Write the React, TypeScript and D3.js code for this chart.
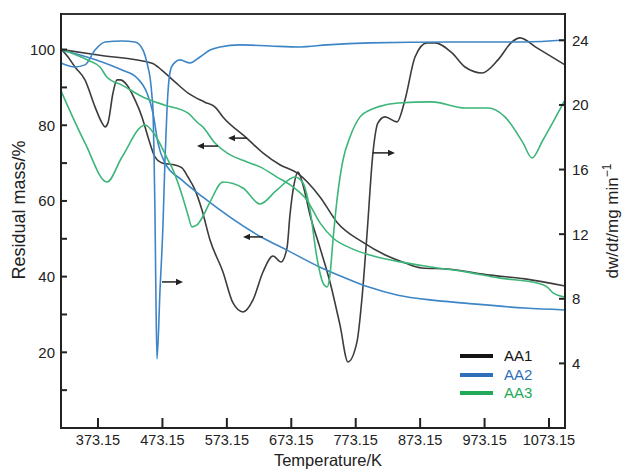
import React from 'react';
import * as d3 from 'd3';

// ---- axis ticks ----
const xTicks = [373.15, 473.15, 573.15, 673.15, 773.15, 873.15, 973.15, 1073.15];
const leftTicks = [10, 20, 30, 40, 50, 60, 70, 80, 90, 100];
const leftLabels = [20, 40, 60, 80, 100];
const rightTicks = [4, 8, 12, 16, 20, 24];

// ---- AA1 ----
const aa1TgT = [315.7, 376, 457, 472, 493, 513, 539, 555, 567, 604, 629, 656, 682, 718, 744, 784, 819, 850, 876, 916, 982, 1036, 1098];
const aa1TgM = [100, 98.5, 96.4, 94.6, 91.4, 88.5, 86.1, 84.8, 82.2, 76.6, 72.7, 69.5, 67.4, 61.0, 54.4, 49.1, 45.7, 43.6, 42.3, 42.0, 40.4, 39.4, 37.5];
const aa1DtgT = [315.7, 326.6, 337.4, 352.9, 368.5, 379.3, 384, 388.6, 396.4, 402.6, 407.3, 418.1, 430.6, 441.4, 450.7, 461.6, 472.5, 492.6, 503.5, 512.8, 523.7, 534.5, 547, 567.1, 582.7, 598.2, 613.7, 629.2, 644.8, 657.2, 666.5, 671.1, 677.3, 683.5, 691.3, 702.2, 717.7, 733.2, 748.7, 761.1, 775.1, 782.9, 790.6, 799.9, 807.7, 818.6, 837.2, 849.6, 865.2, 883.8, 896.2, 922.6, 942.8, 969.1, 994, 1015.7, 1028.1, 1054.5, 1098];
const aa1DtgV = [23.47, 22.97, 22.35, 21.55, 19.88, 18.89, 18.64, 18.89, 20.74, 21.55, 21.55, 21.24, 20.31, 19.26, 18.02, 16.78, 16.41, 16.28, 16.1, 15.54, 14.74, 13.5, 11.64, 9.66, 7.74, 7.18, 7.93, 9.66, 10.65, 10.28, 11.15, 13.19, 15.05, 15.85, 15.05, 13.19, 11.15, 9.04, 6.38, 4.09, 5.33, 8.05, 11.95, 17.03, 18.89, 19.26, 18.95, 20.31, 22.97, 23.84, 23.84, 23.22, 22.35, 21.98, 22.79, 23.9, 24.15, 23.53, 22.48];

// ---- AA2 ----
const aa2TgT = [315.7, 371.6, 410.4, 433.7, 449.2, 458.5, 466.2, 477.1, 503.5, 536.1, 629.2, 666.5, 717.7, 753.4, 792.2, 838.8, 891.6, 942.8, 1035.9, 1098];
const aa2TgM = [99.9, 97.2, 94.6, 92.5, 88.5, 83.2, 75.3, 70.0, 65.5, 61.0, 50.2, 47.0, 42.5, 39.9, 37.3, 35.1, 33.8, 33.0, 31.7, 31.2];
const aa2DtgT = [315.7, 337.4, 352.9, 368.5, 384.0, 410.4, 430.6, 443.0, 450.7, 453.8, 457.0, 458.5, 460.0, 461.6, 463.1, 464.7, 469.4, 474.0, 477.1, 480.2, 483.3, 488.0, 500.4, 515.9, 531.4, 547.0, 562.5, 593.5, 640.1, 686.6, 728.6, 795.3, 919.5, 1035.9, 1098];
const aa2DtgV = [22.6, 22.35, 22.48, 23.4, 23.9, 23.96, 23.9, 23.4, 22.35, 21.73, 20.5, 19.69, 17.21, 13.19, 7.93, 4.27, 8.55, 12.57, 16.59, 19.69, 21.55, 22.41, 22.79, 22.6, 22.97, 23.4, 23.59, 23.72, 23.65, 23.59, 23.72, 23.84, 23.9, 23.9, 24.02];

// ---- AA3 ----
const aa3TgT = [315.7, 357.6, 376.2, 387.1, 410.4, 446.1, 477.1, 512.8, 528.3, 536.1, 554.7, 573.3, 604.4, 624.6, 650.9, 675.8, 697.5, 717.7, 737.9, 764.3, 795.3, 841.9, 893.1, 945.8, 997.1, 1054.5, 1070.1, 1079.4, 1098];
const aa3TgM = [100.1, 97.2, 95.4, 92.7, 90.6, 87.2, 85.3, 83.2, 80.6, 79.5, 75.3, 72.7, 70.3, 69.0, 66.3, 63.7, 60.2, 54.2, 50.2, 47.6, 45.7, 43.9, 42.5, 41.2, 39.6, 38.3, 37.3, 35.7, 34.6];
const aa3DtgT = [315.7, 352.9, 387.1, 410.4, 446.1, 461.6, 481.8, 489.5, 503.5, 512.8, 519.0, 526.8, 534.5, 547.0, 567.1, 598.2, 624.6, 650.9, 678.9, 691.3, 702.2, 713.0, 722.3, 728.6, 733.2, 737.9, 744.1, 753.4, 764.3, 779.8, 795.3, 807.7, 838.8, 891.6, 942.8, 978.5, 1004.8, 1032.8, 1046.8, 1063.8, 1098];
const aa3DtgV = [20.87, 17.65, 15.23, 16.78, 18.76, 18.14, 16.59, 15.98, 14.43, 13.19, 12.45, 12.57, 13.0, 13.99, 15.23, 14.86, 13.87, 14.74, 15.54, 15.17, 13.5, 10.53, 8.98, 8.73, 9.47, 11.64, 14.12, 16.59, 18.02, 19.26, 19.69, 19.88, 20.12, 20.19, 19.81, 19.81, 19.26, 17.65, 16.72, 17.83, 20.31];

// ---- annotation arrows (temperature from -> to, at residual mass level) ----
const arrowFrom = [604.4, 559.4, 629.2, 472.5, 799.9];
const arrowTo = [574.9, 526.8, 598.2, 505.1, 834.1];
const arrowAt = [76.6, 74.5, 50.5, 38.6, 72.7];

const legendNames = ['AA1', 'AA2', 'AA3'];

const BLACK = '#3c3c3c';
const BLUE = '#3d85c6';
const GREEN = '#3db67a';
const legendLine = ['#141414', '#2f6fba', '#22aa58'];
const legendText = ['#141414', '#2f6fba', '#22aa58'];

const FONT = 'Liberation Sans, Arial, Helvetica, sans-serif';

export default function App() {
  const W = 622, H = 471;
  const L = 61, R = 565, T = 14, B = 428;
  const x = d3.scaleLinear().domain([315.7, 1098]).range([L, R]);
  const yL = d3.scaleLinear().domain([0, 109.4]).range([B, T]);
  const yR = d3.scaleLinear().domain([0, 25.63]).range([B, T]);

  const mk = (ts: number[], vs: number[], y: d3.ScaleLinear<number, number>) =>
    d3.line<number>()
      .x((_, i) => x(ts[i]))
      .y((v) => y(v))
      .curve(d3.curveMonotoneX)(vs) || '';

  const series = [
    { d: mk(aa1TgT, aa1TgM, yL), c: BLACK },
    { d: mk(aa1DtgT, aa1DtgV, yR), c: BLACK },
    { d: mk(aa2TgT, aa2TgM, yL), c: BLUE },
    { d: mk(aa2DtgT, aa2DtgV, yR), c: BLUE },
    { d: mk(aa3TgT, aa3TgM, yL), c: GREEN },
    { d: mk(aa3DtgT, aa3DtgV, yR), c: GREEN },
  ];

  const legendY = [356, 375, 393];

  return (
    <svg width={W} height={H} style={{ position: 'absolute', left: 0, top: 0, background: '#fff' }} fontFamily={FONT}>
      <rect x={0} y={0} width={W} height={H} fill="#fff" />
      {series.map((s, i) => (
        <path key={i} d={s.d} fill="none" stroke={s.c} strokeWidth={1.6} strokeLinejoin="round" />
      ))}

      {/* arrows */}
      {arrowFrom.map((a, i) => {
        const x0 = x(a), x1 = x(arrowTo[i]), yy = yL(arrowAt[i]);
        const dir = x1 > x0 ? 1 : -1;
        return (
          <g key={i}>
            <line x1={x0} y1={yy} x2={x1 - dir * 4} y2={yy} stroke="#222" strokeWidth={1.5} />
            <path d={`M${x1},${yy} L${x1 - dir * 7},${yy - 3.2} L${x1 - dir * 7},${yy + 3.2} Z`} fill="#222" />
          </g>
        );
      })}

      {/* frame */}
      <line x1={L} y1={T} x2={R} y2={T} stroke="#333" strokeWidth={2} />
      <line x1={L} y1={T - 1} x2={L} y2={B + 1} stroke="#222" strokeWidth={2} />
      <line x1={R} y1={T - 1} x2={R} y2={B + 1} stroke="#222" strokeWidth={2} />
      <line x1={L - 1} y1={B} x2={R + 1} y2={B} stroke="#222" strokeWidth={2} />

      {/* x ticks */}
      {xTicks.map((t) => (
        <g key={t}>
          <line x1={x(t)} x2={x(t)} y1={B} y2={B - 10} stroke="#222" strokeWidth={2} />
          <text x={x(t)} y={445} fontSize={14.5} textAnchor="middle" fill="#222">{t.toFixed(2)}</text>
        </g>
      ))}

      {/* left ticks */}
      {leftTicks.map((t) => (
        <line key={t} x1={L} x2={L + 6} y1={yL(t)} y2={yL(t)} stroke="#222" strokeWidth={2} />
      ))}
      {leftLabels.map((t) => (
        <text key={t} x={55} y={yL(t)} dy="0.36em" fontSize={15} textAnchor="end" fill="#222">{t}</text>
      ))}

      {/* right ticks */}
      {rightTicks.map((t) => (
        <g key={t}>
          <line x1={R} x2={R - 6} y1={yR(t)} y2={yR(t)} stroke="#222" strokeWidth={2} />
          <text x={572} y={yR(t)} dy="0.36em" fontSize={15} textAnchor="start" fill="#222">{t}</text>
        </g>
      ))}

      {/* axis titles */}
      <text x={328} y={466} fontSize={16.5} textAnchor="middle" fill="#222">Temperature/K</text>
      <text transform="translate(25,210) rotate(-90)" fontSize={18} textAnchor="middle" fill="#222">Residual mass/%</text>
      <text transform="translate(618,221) rotate(-90)" fontSize={17} textAnchor="middle" fill="#222">
        dw/d<tspan fontStyle="italic">t</tspan>/mg min<tspan dy={-7} fontSize={12}>−1</tspan>
      </text>

      {/* legend */}
      {legendNames.map((n, i) => (
        <g key={n}>
          <line x1={460} x2={493} y1={legendY[i]} y2={legendY[i]} stroke={legendLine[i]} strokeWidth={4} />
          <text x={504} y={legendY[i]} dy="0.36em" fontSize={15} fill={legendText[i]}>{n}</text>
        </g>
      ))}
    </svg>
  );
}
